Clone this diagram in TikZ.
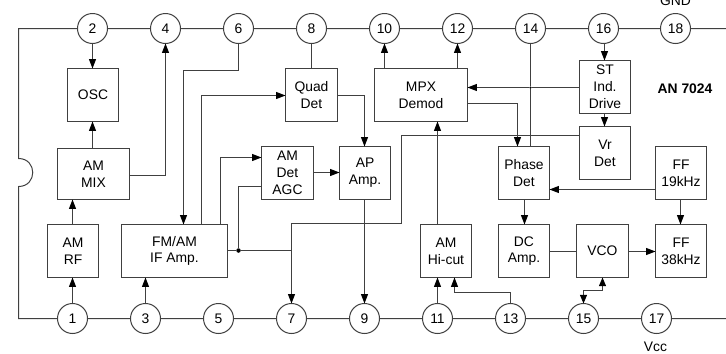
\documentclass[tikz,border=0pt]{standalone}
\usepackage{fontspec}
\setmainfont{Liberation Sans}
\usetikzlibrary{arrows.meta}
\definecolor{ink}{gray}{0.25}
\tikzset{
  x=.75pt,y=-.75pt,
  every node/.style={text=black,font=\fontsize{10.4}{12.6}\selectfont},
  line/.style={draw=ink,line width=.75pt},
  arr/.style={line,-{Triangle[length=7pt,width=5.2pt,color=black]}},
  biarr/.style={line,{Triangle[length=6.4pt,width=5.2pt,color=black]}-{Triangle[length=6.4pt,width=5.2pt,color=black]}},
  blk/.style 2 args={line,fill=white,rectangle,align=center,inner sep=0pt,outer sep=0pt,minimum width=#1*.75pt,minimum height=#2*.75pt},
  pin/.style={line,fill=white,circle,inner sep=0pt,outer sep=0pt,minimum size=30*.75pt},
  jdot/.style={circle,fill=black,inner sep=0pt,outer sep=0pt,minimum size=#1*.75pt},
  lab/.style={anchor=base,inner sep=0pt},
}
\begin{document}
\begin{tikzpicture}
\useasboundingbox (0,0) rectangle (726,354);
% package outline
\draw[line] (726,28.5) -- (18.5,28.5) -- (18.5,158.5) .. controls (37.5,158.5) and (37.5,186.5) .. (18.5,186.5) -- (18.5,318.5) -- (726,318.5);
% pins
\foreach \n/\x in {2/92.5,4/165.5,6/238.5,8/311.5,10/384.5,12/457.5,14/530.5,16/603.5,18/675.5}
  \node[pin] (p\n) at (\x,28.5) {\n};
\foreach \n/\x in {1/72.5,3/145.5,5/218.5,7/291.5,9/364.5,11/437.5,13/510.5,15/583.5,17/656.5}
  \node[pin] (p\n) at (\x,318.5) {\n};
% blocks
\node[blk={51}{53}] (osc) at (93,95) {OSC};
\node[blk={72}{51}] (mix) at (93.5,174) {AM\\MIX};
\node[blk={51}{53}] (rf) at (73,251) {AM\\RF};
\node[blk={106}{53}] (fm) at (174.5,251) {FM/AM\\IF Amp.};
\node[blk={52}{53}] (quad) at (311.5,95) {Quad\\Det};
\node[blk={52}{53}] (det) at (287.5,173) {AM\\Det\\AGC};
\node[blk={51}{53}] (ap) at (365,173) {AP\\Amp.};
\node[blk={93}{53}] (mpx) at (421,95) {MPX\\Demod};
\node[blk={51}{53}] (st) at (605,87) {ST\\Ind.\\Drive};
\node[blk={51}{53}] (vr) at (605,153) {Vr\\Det};
\node[blk={51}{53}] (phase) at (524,173) {Phase\\Det};
\node[blk={51}{53}] (ff19) at (681,173) {FF\\19kHz};
\node[blk={51}{53}] (hicut) at (446,251) {AM\\Hi-cut};
\node[blk={51}{53}] (dc) at (524,251) {DC\\Amp.};
\node[blk={52}{53}] (vco) at (602.5,251) {VCO};
\node[blk={51}{53}] (ff38) at (681,251) {FF\\38kHz};
% junctions
\node[jdot=4.5] (j1) at (238.5,250.5) {};
\node[jdot=2.5] (j2) at (530.5,87.5) {};
% bend and tap points
\coordinate (a1) at (165.5,175.5);
\coordinate (a2) at (238.5,70.5);
\coordinate (a3) at (183.5,70.5);
\coordinate (b1) at (201.5,95.5);
\coordinate (c1) at (220.5,157.5);
\coordinate (d1) at (238.5,186.5);
\coordinate (e1) at (291.5,250.5);
\coordinate (e2) at (291.5,223.5);
\coordinate (e3) at (401.5,223.5);
\coordinate (e4) at (401.5,135.5);
\coordinate (f1) at (364.5,95.5);
\coordinate (i1) at (454.5,292.5);
\coordinate (i3) at (510.5,292.5);
\coordinate (k1) at (517.5,103.5);
\coordinate (m1) at (530.5,146.5);
\coordinate (q1) at (524.5,189.5);
\coordinate (n2) at (602.5,290.5);
\coordinate (n3) at (583.5,290.5);
\coordinate (w1) at (680.5,251.5);
\coordinate (s1) at (604.5,87);
\coordinate (u1) at (524.5,251.5);
\coordinate (r2) at (287,172.5);
% connectors
\draw[arr] (p2) -- (osc.north -| p2);
\draw[arr] (mix.north -| p2) -- (osc.south -| p2);
\draw[arr] (a1 -| mix.east) -- (a1) -- (p4);
\draw[arr] (p1) -- (rf.south -| p1);
\draw[arr] (rf.north -| p1) -- (mix.south -| p1);
\draw[arr] (p3) -- (fm.south -| p3);
\draw[arr] (p6) -- (a2) -- (a3) -- (fm.north -| a3);
\draw[arr] (fm.north -| b1) -- (b1) -- (quad.west |- b1);
\draw[arr] (fm.north -| c1) -- (c1) -- (det.west |- c1);
\draw[line] (det.west |- d1) -- (d1) -- (j1);
\draw[line] (fm.east |- j1) -- (j1) -- (e1);
\draw[arr] (vr.west |- e4) -- (e4) -- (e3) -- (e2) -- (p7);
\draw[line] (p8) -- (quad);
\draw[arr] (quad.east |- f1) -- (f1) -- (ap.north -| f1);
\draw[arr] (det.east |- r2) -- (ap.west |- r2);
\draw[arr] (ap.south -| p9) -- (p9);
\draw[arr] (mpx.north -| p10) -- (p10);
\draw[arr] (mpx.north -| p12) -- (p12);
\draw[arr] (hicut.north -| p11) -- (mpx.south -| p11);
\draw[arr] (p11) -- (hicut.south -| p11);
\draw[arr] (p13) -- (i3) -- (i1) -- (hicut.south -| i1);
\draw[arr] (mpx.east |- k1) -- (k1) -- (phase.north -| k1);
\draw[line] (p14) -- (j2) -- (m1);
\draw[arr] (st.west |- j2) -- (j2) -- (mpx.east |- j2);
\draw[arr] (p16.south -| s1) -- (st.north -| s1);
\draw[arr] (st.south -| s1) -- (vr.north -| s1);
\draw[arr] (phase.south -| q1) -- (dc.north -| q1);
\draw[arr] (ff19.west |- q1) -- (phase.east |- q1);
\draw[arr] (ff19.south -| w1) -- (ff38.north -| w1);
\draw[line] (dc.east |- u1) -- (vco.west |- u1);
\draw[arr] (vco.east |- w1) -- (ff38.west |- w1);
\draw[biarr] (vco.south -| n2) -- (n2) -- (n3) -- (p15);
% labels
\node[lab] (gnd) at (675.5,5) {GND};
\node[lab] (vcc) at (655.5,351) {Vcc};
\node[lab,font=\fontsize{10.4}{12}\bfseries] (ic) at (685,93) {AN 7024};
\end{tikzpicture}
\end{document}
